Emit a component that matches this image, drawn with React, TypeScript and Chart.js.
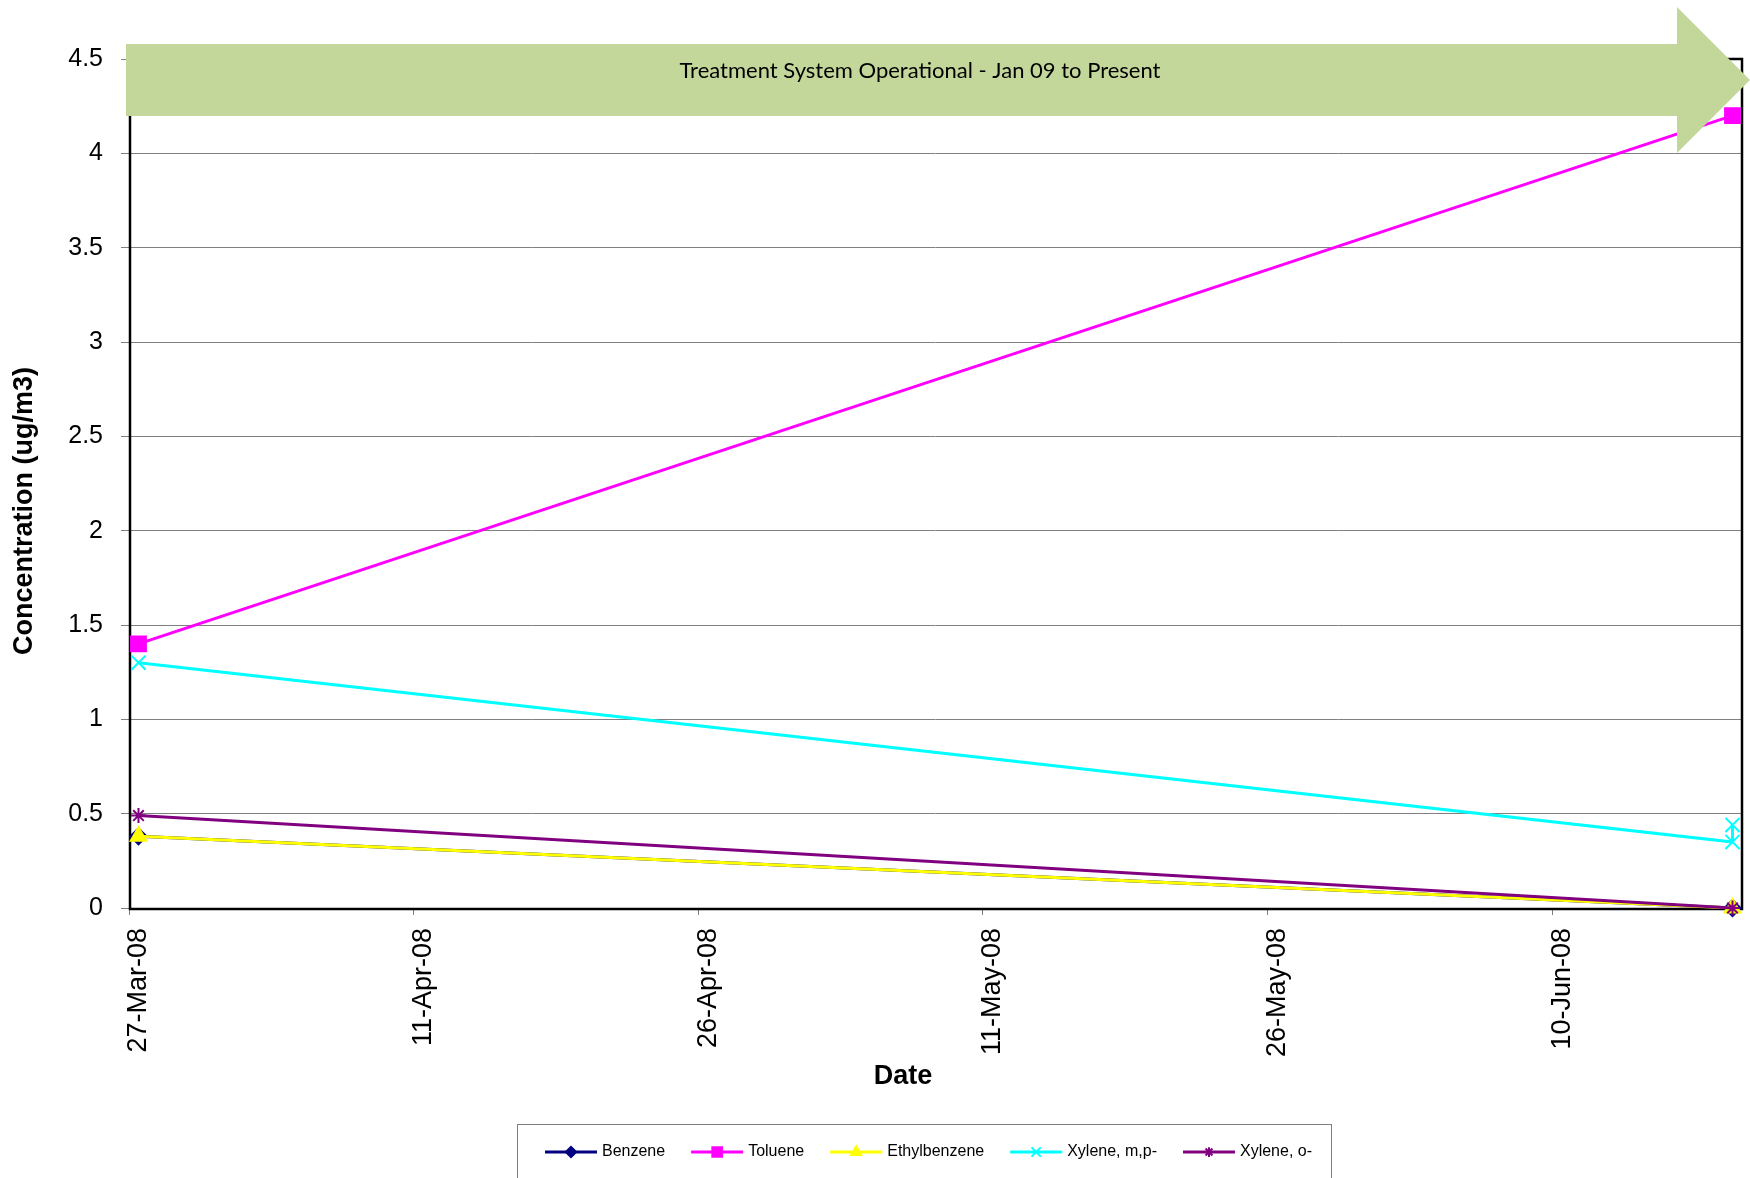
import React, { useEffect, useRef } from 'react';
import { Chart, registerables } from 'chart.js';
import { drawPoint } from 'chart.js/helpers';

Chart.register(...registerables);

// ---------------- data ----------------
const axisStartDate = '2008-03-27T00:00:00Z';
const sampleDates = ['2008-03-27T12:00:00Z', '2008-06-19T12:00:00Z'];
const xyleneMpDates = ['2008-03-27T12:00:00Z', '2008-06-19T12:00:00Z', '2008-06-19T12:00:00Z'];

const seriesNames = ['Benzene', 'Toluene', 'Ethylbenzene', 'Xylene, m,p-', 'Xylene, o-'];
const benzene = [0.38, 0];
const toluene = [1.4, 4.2];
const ethylbenzene = [0.38, 0];
const xyleneMp = [1.3, 0.35, 0.44];
const xyleneO = [0.49, 0];

const xTickLabels = ['27-Mar-08', '11-Apr-08', '26-Apr-08', '11-May-08', '26-May-08', '10-Jun-08'];
const xAxisMaxDays = 85;
const xTickStepDays = 15;
const yMin = 0;
const yMax = 4.5;
const yStep = 0.5;

const yTitle = 'Concentration (ug/m3)';
const xTitle = 'Date';
const bannerText = 'Treatment System Operational - Jan 09 to Present';

// ---------------- helpers ----------------
const DAY = 86400000;
const toDays = (d: string) => (Date.parse(d) - Date.parse(axisStartDate)) / DAY;
const toPoints = (dates: string[], values: number[]) =>
  values.map((v, i) => ({ x: toDays(dates[i]), y: v }));

const FONT = '"Liberation Sans", Arial, Helvetica, sans-serif';

const styles = [
  { color: '#000080', pointStyle: 'rectRot', radius: 8 },
  { color: '#FF00FF', pointStyle: 'rect', radius: 10.5 },
  { color: '#FFFF00', pointStyle: 'triangle', radius: 9 },
  { color: '#00FFFF', pointStyle: 'crossRot', radius: 10 },
  { color: '#800080', pointStyle: 'star', radius: 7.5 },
];

const seriesData = [
  toPoints(sampleDates, benzene),
  toPoints(sampleDates, toluene),
  toPoints(sampleDates, ethylbenzene),
  toPoints(xyleneMpDates, xyleneMp),
  toPoints(sampleDates, xyleneO),
];

const frameBox = {
  id: 'frameBox',
  beforeDatasetsDraw(chart: any) {
    const { ctx, chartArea: a } = chart;
    ctx.save();
    ctx.strokeStyle = '#000000';
    ctx.lineWidth = 2.5;
    ctx.strokeRect(a.left + 1, a.top, a.right - a.left - 1, a.bottom - a.top + 1);
    ctx.restore();
  },
};

const decorations = {
  id: 'decorations',
  afterDraw(chart: any) {
    const { ctx } = chart;
    ctx.save();
    // axis titles
    ctx.fillStyle = '#000000';
    ctx.font = 'bold 27px ' + FONT;
    ctx.textAlign = 'center';
    ctx.textBaseline = 'middle';
    ctx.fillText(xTitle, 903, 1077);
    ctx.save();
    ctx.translate(25, 511);
    ctx.rotate(-Math.PI / 2);
    ctx.fillText(yTitle, 0, 0);
    ctx.restore();

    // banner arrow
    ctx.fillStyle = '#C4D79B';
    ctx.beginPath();
    ctx.moveTo(126, 44);
    ctx.lineTo(1677, 44);
    ctx.lineTo(1677, 7);
    ctx.lineTo(1750, 80);
    ctx.lineTo(1677, 153);
    ctx.lineTo(1677, 116);
    ctx.lineTo(126, 116);
    ctx.closePath();
    ctx.fill();
    ctx.fillStyle = '#000000';
    ctx.font = '22px Lato, "Open Sans", sans-serif';
    ctx.textAlign = 'center';
    ctx.textBaseline = 'middle';
    ctx.fillText(bannerText, 920, 71);

    // legend
    ctx.strokeStyle = '#808080';
    ctx.lineWidth = 1;
    ctx.strokeRect(517.5, 1124.5, 814, 80);
    ctx.font = '16px ' + FONT;
    ctx.textAlign = 'left';
    ctx.textBaseline = 'middle';
    let x = 545;
    const y = 1152;
    chart.data.datasets.forEach((ds: any, i: number) => {
      ctx.strokeStyle = ds.borderColor;
      ctx.lineWidth = 3;
      ctx.beginPath();
      ctx.moveTo(x, y);
      ctx.lineTo(x + 52, y);
      ctx.stroke();
      ctx.fillStyle = ds.borderColor;
      ctx.lineWidth = 2;
      drawPoint(ctx, { pointStyle: styles[i].pointStyle as any, radius: styles[i].radius * 0.65, rotation: 0, borderWidth: 2 }, x + 26, y);
      ctx.fillStyle = '#000000';
      ctx.fillText(ds.label, x + 57, y);
      x += 57 + ctx.measureText(ds.label).width + 26;
    });
    ctx.restore();
  },
};

export default function App() {
  const ref = useRef<HTMLCanvasElement>(null);
  useEffect(() => {
    document.body.style.margin = '0';
    const chart = new Chart(ref.current as HTMLCanvasElement, {
      type: 'line',
      data: {
        datasets: seriesNames.map((name, i) => ({
          label: name,
          data: seriesData[i],
          borderColor: styles[i].color,
          backgroundColor: styles[i].color,
          pointBackgroundColor: styles[i].color,
          pointBorderColor: styles[i].color,
          pointStyle: styles[i].pointStyle as any,
          pointRadius: styles[i].radius,
          pointBorderWidth: 2,
          borderWidth: 3,
          fill: false,
          tension: 0,
          order: seriesNames.length - i,
          clip: false as any,
        })),
      },
      options: {
        responsive: false,
        animation: false,
        parsing: false,
        layout: { autoPadding: false, padding: { top: 59, right: 8, left: 0, bottom: 0 } },
        plugins: {
          legend: { display: false },
          title: { display: false },
          tooltip: { enabled: false },
        },
        scales: {
          x: {
            type: 'linear',
            min: 0,
            max: xAxisMaxDays,
            afterFit: (s: any) => {
              s.height = 270;
              s.paddingLeft = 0;
              s.paddingRight = 0;
            },
            border: { display: false },
            grid: {
              drawOnChartArea: false,
              drawTicks: true,
              tickLength: 7,
              tickColor: '#808080',
              tickWidth: 1,
            },
            ticks: {
              stepSize: xTickStepDays,
              includeBounds: false,
              autoSkip: false,
              minRotation: 90,
              maxRotation: 90,
              padding: 13,
              labelOffset: 10,
              color: '#000000',
              font: { family: FONT, size: 27 },
              callback: (v: any) => xTickLabels[Math.round(Number(v) / xTickStepDays)] ?? '',
            },
            title: { display: false },
          },
          y: {
            type: 'linear',
            min: yMin,
            max: yMax,
            afterFit: (s: any) => {
              s.width = 129;
              s.paddingTop = 0;
              s.paddingBottom = 0;
            },
            border: { display: false },
            grid: {
              color: '#808080',
              lineWidth: 1,
              drawTicks: true,
              tickLength: 8,
              tickColor: '#808080',
            },
            ticks: {
              stepSize: yStep,
              padding: 18,
              color: '#000000',
              font: { family: FONT, size: 25 },
              callback: (v: any) => String(Number(Number(v).toFixed(2))),
            },
            title: { display: false },
          },
        },
      },
      plugins: [frameBox, decorations],
    });
    return () => chart.destroy();
  }, []);
  return (
    <div style={{ width: 1750, height: 1178 }}>
      <canvas ref={ref} width={1750} height={1178} style={{ display: 'block', width: 1750, height: 1178 }} />
    </div>
  );
}
